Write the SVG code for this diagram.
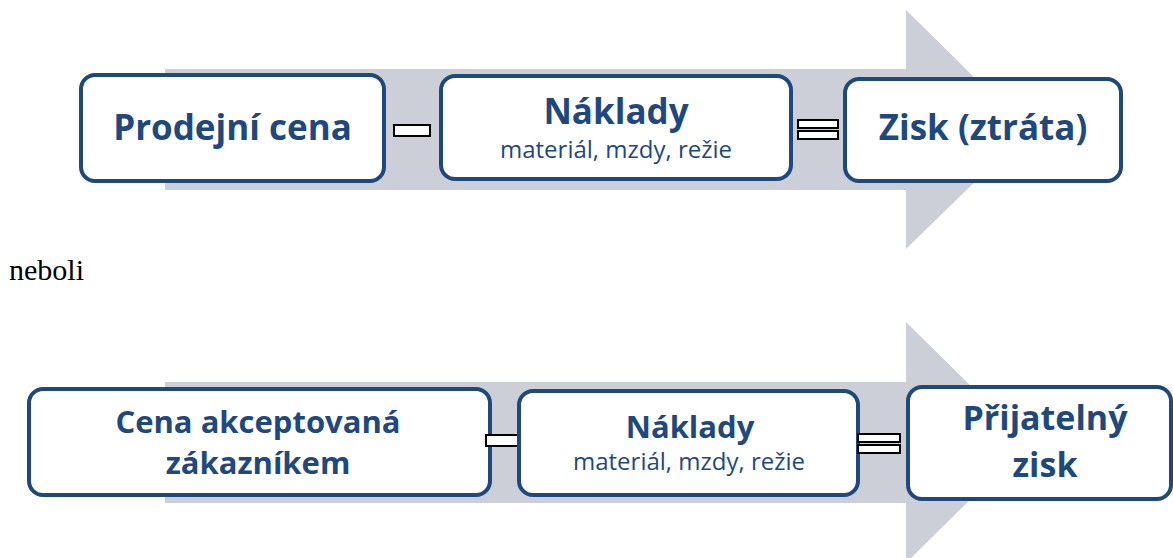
<svg xmlns="http://www.w3.org/2000/svg" width="1173" height="558" viewBox="0 0 1173 558">
<style>
.arrow{fill:#CCCFD8}
.box{fill:#FFFFFF;stroke:#1F497D;stroke-width:4}
.op{fill:#FFFFFF;stroke:#000000;stroke-width:2}
.t{font-family:"Open Sans","Liberation Sans",sans-serif;fill:#1F497D;text-anchor:middle}
.b{font-weight:bold}
.tb{font-size:35px}
.bb{font-size:31px}
.pz{font-size:34px}
.sub{font-size:24px}
.plain{font-family:"Liberation Serif","Times New Roman",serif;font-size:30px;fill:#000000}
</style>
<rect width="1173" height="558" fill="#FFFFFF"/>
<g id="connectors">
<polygon class="arrow" points="165,69 906,69 906,10 1028,130 906,249 906,190 165,190"/>
<polygon class="arrow" points="165,382 906,382 906,322 1028,442.5 906,563 906,503 165,503"/>
</g>
<g id="node-prodejni-cena">
<rect class="box" x="81" y="75" width="303" height="106" rx="14"/>
<text class="t b tb" x="232.5" y="140">Prodejní cena</text>
</g>
<g id="op-minus-1"><rect class="op" x="394" y="125" width="36" height="11"/></g>
<g id="node-naklady-1">
<rect class="box" x="441" y="76" width="350" height="103" rx="14"/>
<text class="t b tb" x="616" y="124">Náklady</text>
<text class="t sub" x="616" y="158">materiál, mzdy, režie</text>
</g>
<g id="op-equal-1">
<rect class="op" x="798" y="120" width="40" height="8"/>
<rect class="op" x="798" y="131" width="40" height="8"/>
</g>
<g id="node-zisk">
<rect class="box" x="845" y="79" width="276" height="102" rx="14"/>
<text class="t b tb" x="983" y="140">Zisk (ztráta)</text>
</g>
<text class="plain" x="9" y="280">neboli</text>
<g id="node-cena-akceptovana">
<rect class="box" x="29" y="389" width="461" height="106" rx="14"/>
<text class="t b bb" x="258" y="433">Cena akceptovaná</text>
<text class="t b bb" x="258" y="474">zákazníkem</text>
</g>
<g id="op-minus-2"><rect class="op" x="486" y="435" width="36" height="11"/></g>
<g id="node-naklady-2">
<rect class="box" x="519" y="391" width="339" height="104" rx="14"/>
<text class="t b bb" x="690" y="438">Náklady</text>
<text class="t sub" x="689" y="470">materiál, mzdy, režie</text>
</g>
<g id="op-equal-2">
<rect class="op" x="858" y="434" width="42" height="8"/>
<rect class="op" x="858" y="445" width="42" height="8"/>
</g>
<g id="node-prijatelny-zisk">
<rect class="box" x="908" y="387" width="263" height="112" rx="14"/>
<text class="t b pz" x="1045" y="430">Přijatelný</text>
<text class="t b pz" x="1045" y="477">zisk</text>
</g>
</svg>
